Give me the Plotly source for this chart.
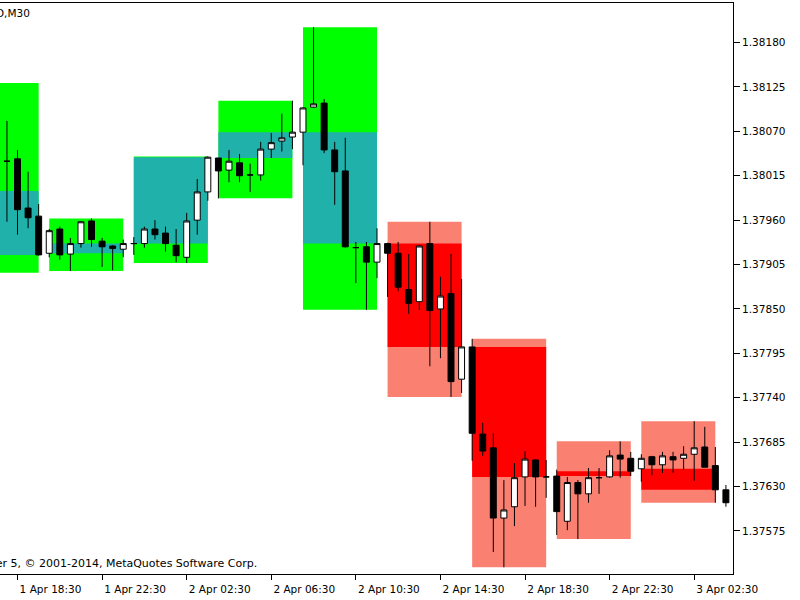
import pandas as pd
import plotly.graph_objects as go

# ---- M30 bars (EURUSD), 1 Apr 2014 18:00 onwards ----
bar_times = pd.date_range("2014-04-01 18:00", periods=69, freq="30min")

bar_open = [1.38033, 1.38036, 1.37975, 1.37965, 1.37919, 1.37949, 1.37918, 1.37931, 1.37959, 1.37934,
            1.37928, 1.37924, 1.37931, 1.37931, 1.37949, 1.37944, 1.37929, 1.37914, 1.37960, 1.37995,
            1.38037, 1.38022, 1.38031, 1.38016, 1.38016, 1.38048, 1.38058, 1.38063, 1.38069, 1.38100,
            1.38105, 1.38047, 1.38021, 1.37926, 1.37927, 1.37908, 1.37931, 1.37919, 1.37874, 1.37859,
            1.37931, 1.37850, 1.37869, 1.37763, 1.37803, 1.37695, 1.37678, 1.37591, 1.37605, 1.37642,
            1.37663, 1.37642, 1.37643, 1.37587, 1.37635, 1.37621, 1.37641, 1.37642, 1.37669, 1.37665,
            1.37652, 1.37667, 1.37657, 1.37667, 1.37665, 1.37670, 1.37679, 1.37656, 1.37626]
bar_high = [1.38083, 1.38047, 1.38020, 1.37980, 1.37949, 1.37952, 1.37938, 1.37959, 1.37962, 1.37938,
            1.37929, 1.37936, 1.37939, 1.37952, 1.37960, 1.37952, 1.37949, 1.37969, 1.38011, 1.38039,
            1.38037, 1.38047, 1.38042, 1.38030, 1.38057, 1.38068, 1.38092, 1.38108, 1.38100, 1.38199,
            1.38110, 1.38057, 1.38062, 1.37933, 1.37933, 1.37950, 1.37932, 1.37933, 1.37918, 1.37929,
            1.37958, 1.37890, 1.37918, 1.37887, 1.37813, 1.37709, 1.37696, 1.37638, 1.37659, 1.37674,
            1.37664, 1.37663, 1.37651, 1.37642, 1.37638, 1.37653, 1.37653, 1.37675, 1.37686, 1.37673,
            1.37670, 1.37668, 1.37673, 1.37673, 1.37680, 1.37711, 1.37704, 1.37679, 1.37632]
bar_low = [1.37958, 1.37942, 1.37950, 1.37916, 1.37914, 1.37911, 1.37897, 1.37926, 1.37927, 1.37902,
           1.37898, 1.37914, 1.37917, 1.37926, 1.37936, 1.37921, 1.37908, 1.37907, 1.37942, 1.37984,
           1.37987, 1.38007, 1.38007, 1.37995, 1.38009, 1.38037, 1.38045, 1.38048, 1.38028, 1.38099,
           1.38043, 1.37979, 1.37926, 1.37882, 1.37849, 1.37888, 1.37865, 1.37872, 1.37844, 1.37849,
           1.37779, 1.37789, 1.37741, 1.37746, 1.37662, 1.37668, 1.37549, 1.37530, 1.37581, 1.37606,
           1.37605, 1.37616, 1.37570, 1.37576, 1.37565, 1.37610, 1.37621, 1.37641, 1.37641, 1.37643,
           1.37636, 1.37644, 1.37647, 1.37647, 1.37651, 1.37637, 1.37654, 1.37610, 1.37605]
bar_close = [1.38033, 1.37973, 1.37963, 1.37917, 1.37947, 1.37917, 1.37931, 1.37958, 1.37936, 1.37927,
             1.37925, 1.37931, 1.37931, 1.37949, 1.37942, 1.37931, 1.37916, 1.37959, 1.37995, 1.38038,
             1.38021, 1.38033, 1.38015, 1.38016, 1.38048, 1.38056, 1.38062, 1.38069, 1.38099, 1.38104,
             1.38047, 1.38020, 1.37927, 1.37926, 1.37908, 1.37931, 1.37919, 1.37877, 1.37857, 1.37928,
             1.37848, 1.37866, 1.37760, 1.37803, 1.37696, 1.37674, 1.37591, 1.37601, 1.37641, 1.37664,
             1.37642, 1.37642, 1.37599, 1.37635, 1.37621, 1.37641, 1.37641, 1.37668, 1.37664, 1.37649,
             1.37665, 1.37657, 1.37668, 1.37663, 1.37670, 1.37678, 1.37654, 1.37626, 1.37610]

# ---- H4 session boxes ----
h4_times = ["2014-04-01 16:00", "2014-04-01 20:00", "2014-04-02 00:00", "2014-04-02 04:00",
            "2014-04-02 08:00", "2014-04-02 12:00", "2014-04-02 16:00", "2014-04-02 20:00",
            "2014-04-03 00:00"]
h4_open = [1.37996, 1.37919, 1.37931, 1.38037, 1.38069, 1.37931, 1.37803, 1.37643, 1.37652]
h4_high = [1.38130, 1.37962, 1.38039, 1.38108, 1.38199, 1.37958, 1.37813, 1.37686, 1.37711]
h4_low = [1.37895, 1.37897, 1.37907, 1.37987, 1.37849, 1.37741, 1.37530, 1.37565, 1.37610]
h4_close = [1.37917, 1.37931, 1.38038, 1.38069, 1.37931, 1.37803, 1.37642, 1.37649, 1.37626]
h4_trend = ["up", "up", "up", "up", "up", "down", "down", "down", "down"]

tick_labels = ["1 Apr 18:30", "1 Apr 22:30", "2 Apr 02:30", "2 Apr 06:30", "2 Apr 10:30",
               "2 Apr 14:30", "2 Apr 18:30", "2 Apr 22:30", "3 Apr 02:30"]
tick_times = list(bar_times[1::8])

outer_col = {"up": "#00FF00", "down": "#FA8072"}
inner_col = {"up": "#20B2AA", "down": "#FF0000"}

FONT = "DejaVu Sans"
bar = pd.Timedelta(minutes=30)

fig = go.Figure()
fig.add_trace(go.Candlestick(
    x=bar_times, open=bar_open, high=bar_high, low=bar_low, close=bar_close,
    increasing=dict(fillcolor="white", line=dict(color="black", width=1)),
    decreasing=dict(fillcolor="black", line=dict(color="black", width=1)),
    whiskerwidth=0, showlegend=False, hoverinfo="skip",
))

shapes = []
for t, o, h, l, c, tr in zip(h4_times, h4_open, h4_high, h4_low, h4_close, h4_trend):
    x0 = pd.Timestamp(t)
    x1 = x0 + 7 * bar
    shapes.append(dict(type="rect", xref="x", yref="y", x0=x0, x1=x1, y0=l, y1=h,
                       fillcolor=outer_col[tr], line=dict(width=0), layer="below"))
    shapes.append(dict(type="rect", xref="x", yref="y", x0=x0, x1=x1, y0=min(o, c), y1=max(o, c),
                       fillcolor=inner_col[tr], line=dict(width=0), layer="below"))

x_start = bar_times[0] - 0.656 * bar
x_end = bar_times[0] + 68.67 * bar

fig.update_layout(
    width=800, height=600,
    margin=dict(l=0, r=67, t=3, b=26),
    paper_bgcolor="white", plot_bgcolor="white",
    shapes=shapes,
    boxgap=0.25, boxgroupgap=0.25,
    font=dict(family=FONT, size=10.5, color="black"),
    xaxis=dict(
        type="date", range=[x_start, x_end],
        rangeslider=dict(visible=False),
        tickvals=tick_times, ticktext=tick_labels,
        ticks="outside", ticklen=5, tickcolor="black",
        showline=True, linecolor="black", linewidth=1, mirror=True,
        showgrid=False, zeroline=False, ticklabelshift=33,
        tickfont=dict(family=FONT, size=10.5, color="black"),
    ),
    yaxis=dict(
        side="right", range=[1.375217, 1.382290],
        tick0=1.37575, dtick=0.00055, tickformat=".5f",
        ticks="outside", ticklen=6, tickcolor="black",
        showline=True, linecolor="black", linewidth=1,
        showgrid=False, zeroline=False,
        tickfont=dict(family=FONT, size=10.5, color="black"),
    ),
    annotations=[
        dict(text="EURUSD,M30", xref="paper", yref="paper", x=32 / 732.5, y=1 - 10 / 571,
             xanchor="right", yanchor="middle", showarrow=False,
             font=dict(family=FONT, size=10.5, color="black")),
        dict(text="MetaTrader 5, © 2001-2014, MetaQuotes Software Corp.", xref="paper", yref="paper",
             x=259 / 732.5, y=11 / 571, xanchor="right", yanchor="middle", showarrow=False,
             font=dict(family=FONT, size=11, color="black")),
    ],
)

fig.write_html("out.html")
